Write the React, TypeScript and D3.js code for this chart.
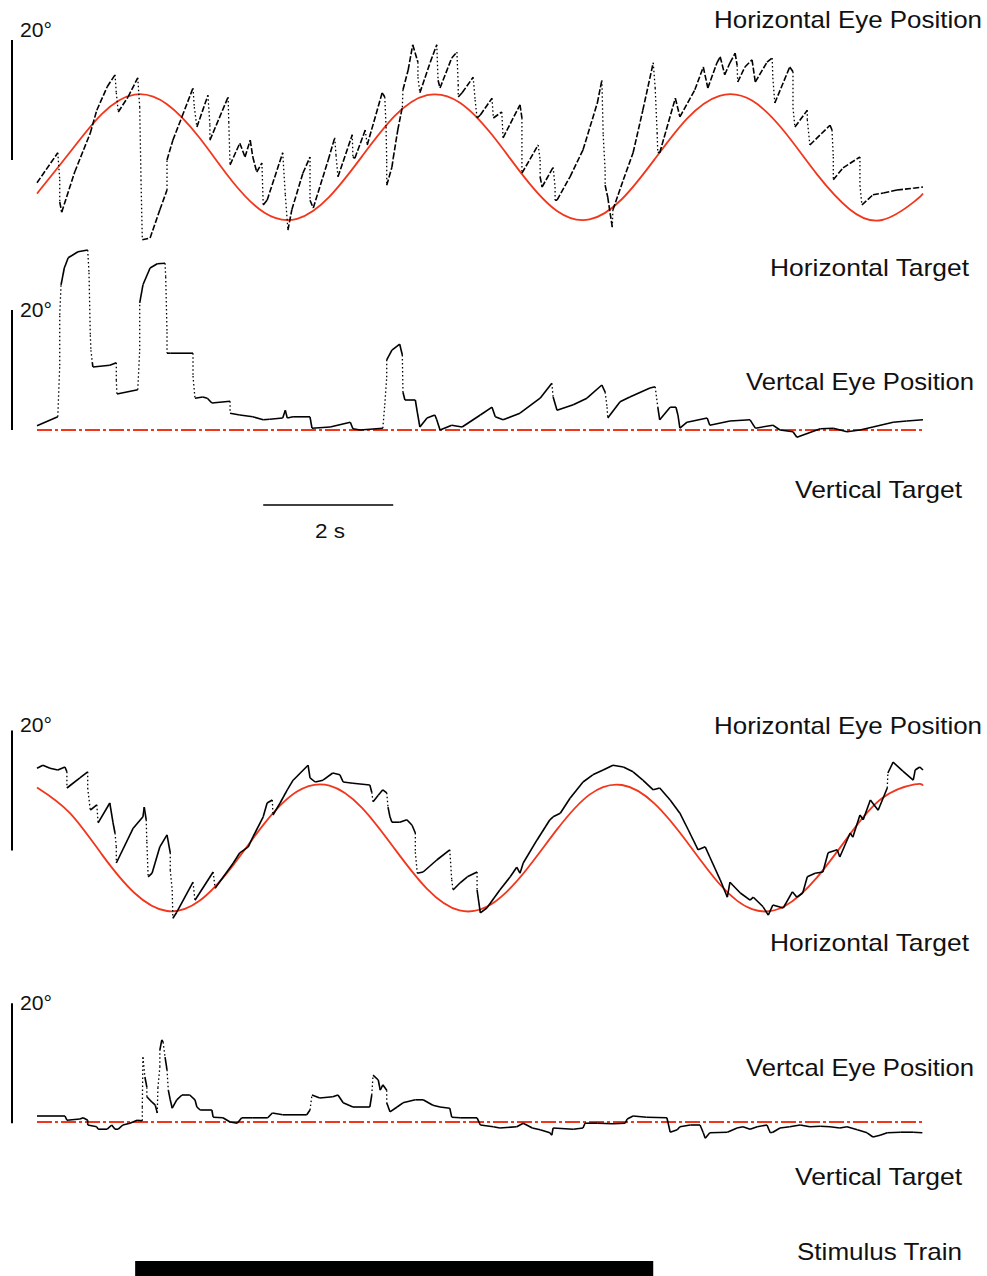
import React from 'react';
import * as d3 from 'd3';

type Pt = [number, number]; // [time s, position deg]

// ---- data (time in s, position in deg) ----
const T_END = 13.63;

const targetTimes = [0, 0.5, 1, 1.5, 2, 2.5, 3, 3.5, 4, 4.5, 5, 5.5, 6, 6.5, 7, 7.5, 8, 8.5, 9, 9.5, 10, 10.5, 11, 11.5, 12, 12.5, 13, 13.5, 13.63];
const topHorizTarget = [-6.1, 0.7, 7.2, 10.4, 8.8, 3.2, -4.0, -9.3, -10.3, -6.6, 0.1, 6.8, 10.3, 9.1, 3.7, -3.4, -9.0, -10.4, -7.0, -0.4, 6.4, 10.2, 9.4, 4.2, -2.9, -8.7, -10.5, -7.4, -6.1];
const bottomHorizTarget = [10.1, 5.9, -1.1, -7.5, -10.5, -8.8, -3.1, 4.1, 9.4, 10.4, 6.7, -0.1, -6.8, -10.4, -9.3, -4.0, 3.1, 8.9, 10.5, 7.4, 1.0, -6.0, -10.2, -9.7, -4.9, 2.2, 8.3, 10.6, 10.4];

const vertTargetTimes = [0, T_END];
const vertTarget = [0, 0];

const topHorizEye: Pt[] = [
  [0, -4.3], [0.32, 0.7], [0.35, -3.8], [0.35, -7.5], [0.38, -9.2], [0.58, -2.5], [0.82, 4.0], [0.92, 7.8],
  [1.08, 11.7], [1.2, 13.7], [1.22, 10.7], [1.25, 7.5], [1.4, 10.0], [1.55, 13.2], [1.58, 8.3], [1.6, -3.8],
  [1.62, -13.8], [1.74, -13.5], [1.89, -8.8], [2.0, -5.5], [2.0, -0.5], [2.09, 2.8], [2.23, 6.7], [2.4, 11.5],
  [2.42, 8.3], [2.46, 5.0], [2.63, 10.3], [2.66, 5.3], [2.66, 2.8], [2.94, 10.0], [2.95, 5.8], [2.97, -1.3],
  [3.12, 2.3], [3.2, 0], [3.28, 2.8], [3.32, 0], [3.38, -2.5], [3.46, -1.0], [3.48, -8.0], [3.54, -7.2],
  [3.78, 0.7], [3.82, -6.3], [3.86, -12.2], [3.92, -8.8], [4.09, -2.7], [4.2, 0], [4.2, -7.2], [4.25, -8.5],
  [4.48, -0.5], [4.58, 3.2], [4.6, 0.3], [4.63, -3.3], [4.85, 3.7], [4.86, 0], [4.89, -0.2], [5.05, 4.5],
  [5.08, 2.0], [5.31, 10.7], [5.35, 10.0], [5.37, 5.0], [5.38, -0.8], [5.38, -4.7], [5.46, -1.7], [5.48, -0.2],
  [5.55, 4.5], [5.62, 8.3], [5.63, 11.2], [5.71, 14.5], [5.78, 18.7], [5.86, 15.8], [5.86, 13.3], [5.89, 10.7],
  [6.05, 15.8], [6.15, 18.7], [6.17, 12.8], [6.2, 11.5], [6.38, 16.5], [6.46, 17.5], [6.48, 12.0], [6.48, 10.0],
  [6.54, 10.7], [6.71, 13.3], [6.74, 9.5], [6.77, 6.5], [6.82, 7.0], [7.0, 9.8], [7.02, 6.5], [7.15, 7.5],
  [7.17, 3.2], [7.43, 8.7], [7.46, 6.5], [7.46, -2.7], [7.71, 2.0], [7.74, -0.5], [7.74, -3.3], [7.77, -5.0],
  [7.94, -1.7], [7.97, -5.0], [7.97, -7.2], [8.0, -7.2], [8.2, -3.3], [8.4, 1.2], [8.62, 9.0], [8.69, 12.8],
  [8.71, 3.7], [8.74, -2.2], [8.74, -4.7], [8.78, -6.7], [8.85, -11.7], [8.86, -8.8], [9.02, -3.8], [9.17, 0.7],
  [9.32, 7.8], [9.48, 15.7], [9.51, 11.5], [9.54, 4.0], [9.55, 0.8], [9.58, 0.7], [9.82, 9.8], [9.89, 6.7],
  [10.12, 11.2], [10.25, 15.0], [10.32, 11.5], [10.46, 15.7], [10.51, 16.7], [10.58, 13.7], [10.66, 15.7], [10.74, 17.3],
  [10.77, 15.3], [10.78, 12.5], [10.89, 15.0], [11.0, 16.2], [11.05, 12.5], [11.23, 15.8], [11.31, 16.5], [11.32, 13.2],
  [11.35, 9.0], [11.58, 15.0], [11.63, 14.2], [11.63, 8.2], [11.66, 5.0], [11.85, 7.8], [11.85, 6.2], [11.89, 2.0],
  [12.2, 5.3], [12.23, 4.5], [12.25, 0], [12.25, -3.8], [12.4, -1.8], [12.66, 0], [12.66, -4.7], [12.69, -8.0],
  [12.86, -6.3], [13.02, -6.0], [13.23, -5.5], [13.48, -5.2], [13.63, -5.0],
];

const topVertEye: Pt[] = [
  [0, 0.7], [0.32, 2.2], [0.35, 10.8], [0.35, 19.2], [0.37, 24.2], [0.42, 27.0], [0.48, 28.7], [0.63, 29.7],
  [0.78, 30.0], [0.8, 26.2], [0.82, 15.8], [0.83, 13.3], [0.85, 11.3], [0.86, 10.5], [1.12, 10.8], [1.22, 11.2],
  [1.22, 8.3], [1.23, 6.0], [1.55, 6.7], [1.58, 13.3], [1.58, 21.2], [1.63, 24.2], [1.74, 27.0], [1.85, 27.7],
  [1.97, 27.8], [1.98, 25.5], [2.0, 16.3], [2.0, 12.8], [2.05, 12.8], [2.4, 12.8], [2.4, 9.0], [2.43, 5.3],
  [2.55, 5.5], [2.62, 5.3], [2.69, 4.5], [2.97, 4.8], [2.97, 2.8], [3.12, 2.5], [3.32, 2.2], [3.48, 1.7],
  [3.58, 1.8], [3.78, 2.0], [3.82, 3.3], [3.85, 2.0], [3.94, 2.2], [4.2, 2.2], [4.23, 0.3], [4.51, 0.5],
  [4.82, 1.3], [4.86, 0.2], [4.97, 0], [5.32, 0.3], [5.35, 4.2], [5.38, 8.8], [5.38, 11.7], [5.46, 13.3],
  [5.58, 14.3], [5.62, 12.5], [5.63, 6.3], [5.66, 5.0], [5.82, 5.0], [5.85, 3.0], [5.89, 0.5], [6.0, 2.0],
  [6.12, 2.5], [6.15, 1.7], [6.2, 0], [6.38, 0.8], [6.54, 0.5], [6.82, 2.5], [7.0, 3.8], [7.05, 2.2],
  [7.17, 1.7], [7.43, 2.8], [7.74, 5.3], [7.92, 7.8], [7.94, 5.5], [8.0, 3.3], [8.25, 4.2], [8.46, 5.3],
  [8.69, 7.5], [8.74, 6.3], [8.77, 3.8], [8.78, 2.0], [8.97, 4.7], [9.12, 5.5], [9.43, 7.0], [9.51, 7.2],
  [9.55, 3.8], [9.58, 1.7], [9.74, 3.8], [9.83, 3.8], [9.86, 2.5], [9.89, 0.3], [10.0, 1.3], [10.31, 2.0],
  [10.35, 0.8], [10.66, 1.5], [10.97, 1.7], [11.05, 0.3], [11.32, 0.8], [11.43, 0], [11.63, -0.3], [11.69, -1.2],
  [12.05, 0.2], [12.25, 0.3], [12.46, -0.3], [12.66, 0], [12.86, 0.5], [13.17, 1.3], [13.38, 1.5], [13.63, 1.7],
];

const bottomHorizEye: Pt[] = [
  [0, 13.3], [0.09, 13.8], [0.2, 13.3], [0.32, 13.0], [0.43, 13.5], [0.46, 12.7], [0.46, 10.0], [0.66, 11.7],
  [0.78, 12.7], [0.78, 10.0], [0.82, 6.3], [0.92, 7.2], [0.94, 4.2], [1.12, 7.5], [1.17, 4.2], [1.2, 2.5],
  [1.22, 0.2], [1.22, -2.5], [1.48, 3.3], [1.63, 5.2], [1.65, 6.8], [1.68, 4.7], [1.69, 1.0], [1.71, -4.8],
  [1.77, -4.2], [1.89, 0.2], [2.0, 2.2], [2.05, -0.8], [2.05, -3.7], [2.08, -7.0], [2.09, -11.7], [2.15, -10.7],
  [2.4, -5.7], [2.43, -8.7], [2.71, -4.0], [2.74, -6.7], [3.02, -2.5], [3.12, -0.8], [3.25, 0.2], [3.32, 1.8],
  [3.48, 5.2], [3.54, 7.5], [3.62, 8.0], [3.63, 5.5], [3.74, 7.5], [3.85, 9.7], [3.94, 11.3], [4.17, 13.8],
  [4.2, 11.7], [4.28, 11.0], [4.4, 11.3], [4.55, 12.5], [4.66, 12.2], [4.71, 11.0], [4.86, 10.8], [5.12, 10.5],
  [5.15, 9.3], [5.17, 7.7], [5.25, 8.8], [5.32, 9.7], [5.38, 9.2], [5.4, 6.8], [5.43, 5.2], [5.46, 4.3],
  [5.58, 4.3], [5.69, 4.7], [5.77, 3.8], [5.82, 2.5], [5.82, -0.7], [5.85, -4.2], [5.94, -4.0], [6.15, -2.0],
  [6.35, -0.3], [6.38, -5.3], [6.4, -7.0], [6.51, -5.8], [6.62, -4.8], [6.77, -4.0], [6.77, -7.0], [6.82, -10.8],
  [6.92, -10.0], [7.12, -7.0], [7.28, -4.8], [7.38, -3.2], [7.43, -4.2], [7.48, -2.5], [7.69, 1.3], [7.89, 4.7],
  [7.94, 5.2], [8.05, 5.8], [8.2, 8.3], [8.4, 11.0], [8.55, 12.2], [8.71, 13.0], [8.86, 13.8], [9.02, 13.5],
  [9.17, 12.7], [9.32, 11.3], [9.48, 9.7], [9.58, 10.0], [9.74, 8.0], [9.89, 5.8], [10.02, 3.0], [10.17, -0.3],
  [10.28, 0.2], [10.35, -1.5], [10.51, -5.3], [10.62, -8.2], [10.66, -5.7], [10.82, -7.5], [10.97, -8.7], [11.02, -8.2],
  [11.17, -9.8], [11.25, -11.2], [11.32, -9.5], [11.48, -10.0], [11.62, -7.3], [11.69, -8.2], [11.78, -7.5], [11.85, -4.8],
  [11.97, -4.2], [12.09, -4.0], [12.17, -0.8], [12.31, -0.3], [12.35, -1.5], [12.51, 2.5], [12.55, 1.8], [12.66, 5.5],
  [12.71, 4.7], [12.82, 8.0], [12.94, 6.3], [13.08, 10.0], [13.09, 12.5], [13.17, 14.3], [13.32, 12.8], [13.48, 11.3],
  [13.51, 13.0], [13.58, 13.5], [13.63, 13.0],
];

const bottomVertEye: Pt[] = [
  [0, 1.0], [0.43, 1.0], [0.46, 0.3], [0.66, 0.5], [0.71, 0.7], [0.78, 0.3], [0.78, -0.5], [0.92, -0.8],
  [0.94, -1.2], [1.08, -1.2], [1.15, -0.5], [1.2, -1.2], [1.25, -1.2], [1.32, -0.5], [1.43, -0.2], [1.54, 0.3],
  [1.62, 0.2], [1.62, 2.5], [1.63, 10.8], [1.66, 7.5], [1.69, 5.8], [1.69, 4.2], [1.77, 3.3], [1.82, 2.8],
  [1.85, 1.5], [1.86, 5.7], [1.89, 9.2], [1.89, 12.0], [1.92, 13.7], [1.94, 13.3], [1.97, 10.8], [2.0, 8.7],
  [2.02, 5.3], [2.05, 3.7], [2.08, 2.3], [2.15, 3.7], [2.23, 4.5], [2.35, 4.5], [2.43, 3.7], [2.46, 2.5],
  [2.51, 2.0], [2.69, 2.0], [2.71, 0.8], [2.86, 0.7], [2.97, 0], [3.08, -0.2], [3.15, 0.7], [3.32, 0.7],
  [3.55, 0.7], [3.62, 1.5], [3.78, 1.2], [4.15, 1.2], [4.2, 2.0], [4.23, 4.5], [4.35, 4.0], [4.55, 4.2],
  [4.63, 4.5], [4.71, 3.2], [4.86, 2.5], [5.12, 2.5], [5.15, 4.5], [5.17, 7.8], [5.25, 7.0], [5.28, 5.3],
  [5.32, 6.2], [5.38, 5.3], [5.38, 3.2], [5.43, 1.7], [5.54, 2.5], [5.63, 3.2], [5.82, 3.7], [5.94, 3.7],
  [6.09, 2.8], [6.2, 2.5], [6.35, 2.3], [6.38, 0.8], [6.51, 0.7], [6.77, 0.7], [6.82, -0.5], [7.02, -0.8],
  [7.12, -1.0], [7.38, -0.8], [7.48, -0.2], [7.62, -1.0], [7.74, -1.3], [7.89, -1.8], [7.92, -2.2], [7.94, -1.0],
  [8.25, -1.2], [8.4, -1.0], [8.43, -0.2], [8.62, -0.2], [8.86, -0.3], [9.05, -0.2], [9.08, 0.5], [9.17, 1.0],
  [9.38, 0.8], [9.69, 0.7], [9.71, -0.2], [9.74, -1.7], [9.85, -1.3], [9.89, -0.8], [10.05, -0.5], [10.2, -0.5],
  [10.25, -1.8], [10.28, -2.7], [10.35, -1.8], [10.62, -1.7], [10.77, -1.0], [10.86, -0.8], [10.97, -1.2], [11.08, -0.8],
  [11.23, -0.5], [11.28, -1.8], [11.32, -1.7], [11.43, -1.0], [11.58, -0.8], [11.74, -0.5], [11.89, -0.8], [12.05, -0.7],
  [12.2, -0.8], [12.35, -1.0], [12.46, -0.8], [12.62, -1.3], [12.77, -1.8], [12.86, -2.5], [12.97, -2.2], [13.08, -1.8],
  [13.28, -1.7], [13.48, -1.7], [13.62, -1.8],
];

const timeBar = [3.48, 5.48]; // 2 s calibration
const stimulusTrain = [1.51, 9.48]; // s
const scaleBarDeg = 20;

// ---- layout ----
const W = 987;
const H = 1276;
const PX_PER_DEG = 6;
const RED = '#f2361c';
const FONT = 'Liberation Sans, Arial, Helvetica, sans-serif';
const SACCADE_SPEED = 80; // deg/s, faster segments drawn dotted like the sampled original

const x = d3.scaleLinear().domain([0, T_END]).range([37, 923]);
const yAt = (base: number) =>
  d3.scaleLinear().domain([-scaleBarDeg, scaleBarDeg]).range([base + scaleBarDeg * PX_PER_DEG, base - scaleBarDeg * PX_PER_DEG]);

const panels = [
  { hBase: 157, vBase: 430, hBarLow: -0.5, vBarLow: 0, hTarget: topHorizTarget, hEye: topHorizEye, vEye: topVertEye, dashed: true,
    hDegY: 37, vDegY: 317, hLabelY: 28, hTargetY: 276, vLabelY: 390, vTargetY: 498 },
  { hBase: 848, vBase: 1122, hBarLow: -0.4, vBarLow: -0.2, hTarget: bottomHorizTarget, hEye: bottomHorizEye, vEye: bottomVertEye, dashed: false,
    hDegY: 732, vDegY: 1010, hLabelY: 734, hTargetY: 951, vLabelY: 1076, vTargetY: 1185 },
];

const Label = ({ x0, y0, w, size = 24, children }: { x0: number; y0: number; w: number; size?: number; children: React.ReactNode }) => (
  <text x={x0} y={y0} fontSize={size} fontFamily={FONT} fill="#111" textLength={w} lengthAdjust="spacingAndGlyphs">
    {children}
  </text>
);

// eye trace: slow phases as lines, fast phases (saccades) dotted
const Trace = ({ data, ys, dashed }: { data: Pt[]; ys: d3.ScaleLinear<number, number>; dashed: boolean }) => {
  const line = d3.line<Pt>().x(d => x(d[0])).y(d => ys(d[1]));
  const segs = d3.pairs(data);
  return (
    <g fill="none" stroke="#000" strokeWidth={1.6}>
      {segs.map(([a, b], i) => {
        const dDeg = Math.abs(b[1] - a[1]);
        const dt = Math.max(b[0] - a[0], 1e-6);
        const fast = dDeg > 1.5 && dDeg / dt > SACCADE_SPEED;
        return (
          <path key={i} d={line([a, b]) || ''}
            strokeDasharray={fast ? '1.5,2.5' : dashed ? '6,2' : undefined}
            strokeWidth={fast ? 1.3 : 1.6} />
        );
      })}
    </g>
  );
};

export default function App() {
  const targetLine = (ys: d3.ScaleLinear<number, number>, vals: number[], times: number[]) =>
    d3.line<number>().x((_, i) => x(times[i])).y(d => ys(d)).curve(d3.curveNatural)(vals) || '';

  return (
    <svg width={W} height={H} style={{ position: 'absolute', left: 0, top: 0, background: '#fff' }}>
      <rect width={W} height={H} fill="#fff" />
      {panels.map((p, i) => {
        const yh = yAt(p.hBase);
        const yv = yAt(p.vBase);
        return (
          <g key={i}>
            {/* calibration bars */}
            <line x1={12} x2={12} y1={yh(p.hBarLow)} y2={yh(p.hBarLow + scaleBarDeg)} stroke="#000" strokeWidth={2} />
            <line x1={12} x2={12} y1={yv(p.vBarLow)} y2={yv(p.vBarLow + scaleBarDeg)} stroke="#000" strokeWidth={2} />
            <Label x0={20} y0={p.hDegY} w={32} size={21}>20°</Label>
            <Label x0={20} y0={p.vDegY} w={32} size={21}>20°</Label>

            {/* targets */}
            <path d={targetLine(yh, p.hTarget, targetTimes)} fill="none" stroke={RED} strokeWidth={1.8} />
            <path d={targetLine(yv, vertTarget, vertTargetTimes)} fill="none" stroke={RED} strokeWidth={1.8}
              strokeDasharray="15,3,3,3" />

            {/* eye traces */}
            <Trace data={p.hEye} ys={yh} dashed={p.dashed} />
            <Trace data={p.vEye} ys={yv} dashed={false} />

            <Label x0={714} y0={p.hLabelY} w={268}>Horizontal Eye Position</Label>
            <Label x0={770} y0={p.hTargetY} w={199}>Horizontal Target</Label>
            <Label x0={746} y0={p.vLabelY} w={228}>Vertcal Eye Position</Label>
            <Label x0={795} y0={p.vTargetY} w={167}>Vertical Target</Label>
          </g>
        );
      })}

      {/* time calibration */}
      <line x1={x(timeBar[0])} x2={x(timeBar[1])} y1={505} y2={505} stroke="#000" strokeWidth={1.5} />
      <Label x0={315} y0={538} w={30} size={21}>2 s</Label>

      {/* stimulus train */}
      <rect x={x(stimulusTrain[0])} width={x(stimulusTrain[1]) - x(stimulusTrain[0])} y={1261} height={15} fill="#000" />
      <Label x0={797} y0={1260} w={165}>Stimulus Train</Label>
    </svg>
  );
}
